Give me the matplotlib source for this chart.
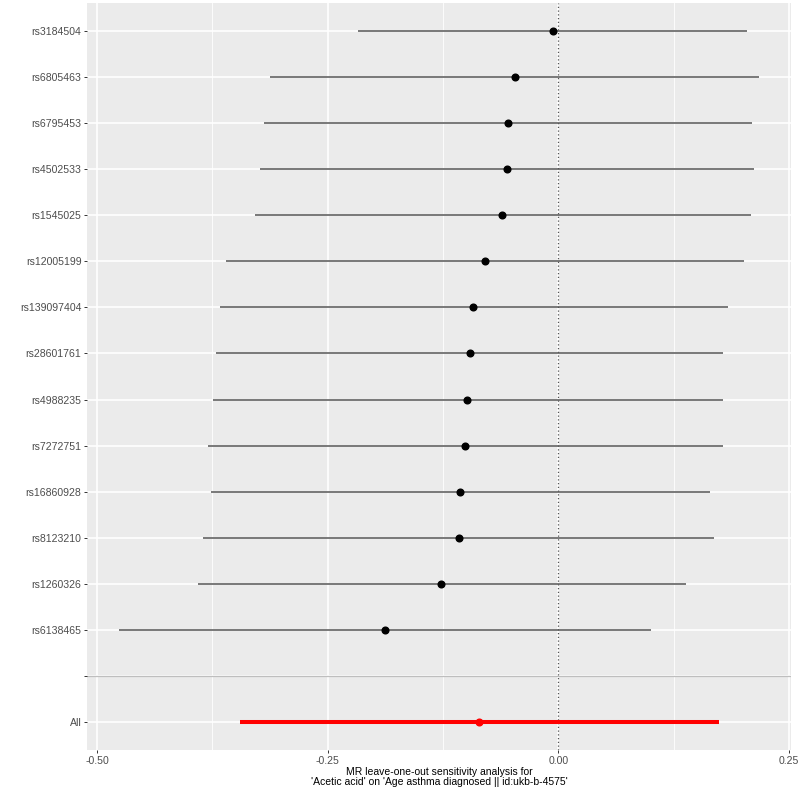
import matplotlib
matplotlib.use("Agg")
import matplotlib.pyplot as plt
import numpy as np

plt.rcParams['font.family'] = ['Liberation Sans', 'DejaVu Sans']

# leave-one-out estimates, listed top to bottom
snps = ["rs3184504", "rs6805463", "rs6795453", "rs4502533", "rs1545025",
        "rs12005199", "rs139097404", "rs28601761", "rs4988235", "rs7272751",
        "rs16860928", "rs8123210", "rs1260326", "rs6138465"]
b = [-0.006, -0.047, -0.055, -0.056, -0.061, -0.079, -0.092, -0.096,
     -0.099, -0.101, -0.107, -0.108, -0.127, -0.188]
lo = [-0.217, -0.312, -0.319, -0.323, -0.329, -0.360, -0.367, -0.371,
      -0.374, -0.380, -0.376, -0.385, -0.391, -0.476]
hi = [0.205, 0.218, 0.210, 0.212, 0.209, 0.201, 0.184, 0.179,
      0.178, 0.179, 0.164, 0.169, 0.138, 0.101]

all_b, all_lo, all_hi = -0.086, -0.345, 0.174

x_ticks = [-0.50, -0.25, 0.00, 0.25]
x_tick_labels = ["-0.50", "-0.25", "0.00", "0.25"]

fig = plt.figure(figsize=(8.09, 7.92), dpi=100)
ax = fig.add_axes([87 / 809, 1 - 750 / 792, (791 - 87) / 809, (750 - 3) / 792])
ax.set_facecolor('#EBEBEB')
for s in ax.spines.values():
    s.set_visible(False)

# levels: All=1, blank=2, SNPs 3..16 (bottom to top)
n = len(snps)
ypos = np.arange(n + 2, 2, -1)  # top row gets highest y

ax.set_xlim(-0.5108, 0.2522)
ax.set_ylim(0.4, n + 2.6)

# grid
for xm in [-0.375, -0.125, 0.125]:
    ax.axvline(xm, color='white', lw=0.6, zorder=0)
for xv in x_ticks:
    ax.axvline(xv, color='white', lw=1.2, zorder=0)
for yv in list(ypos) + [2, 1]:
    ax.axhline(yv, color='white', lw=1.2, zorder=0)

ax.axhline(2, color='#BEBEBE', lw=0.9, zorder=1)
ax.axvline(0, color='#555555', lw=0.9, linestyle=(0, (1, 2)), zorder=2)

ax.hlines(ypos, lo, hi, color='#555555', lw=1.1, zorder=3)
ax.plot(b, ypos, 'o', color='black', ms=4.8, zorder=4)

ax.hlines(1, all_lo, all_hi, color='#FF0000', lw=2.9, zorder=3)
ax.plot([all_b], [1], 'o', color='#FF0000', ms=4.8, zorder=4)

ax.set_yticks(list(ypos) + [2, 1])
ax.set_yticklabels(snps + ["", "All"])
ax.set_xticks(x_ticks)
ax.set_xticklabels(x_tick_labels)
ax.tick_params(axis='both', colors='#333333', labelcolor='#4D4D4D',
               labelsize=7.6, length=2.5, width=0.7, pad=1.5)

ax.set_xlabel("MR leave-one-out sensitivity analysis for\n"
              "'Acetic acid' on 'Age asthma diagnosed || id:ukb-b-4575'",
              fontsize=7.5, color='black', labelpad=1, linespacing=1.0)

fig.savefig("out.png", dpi=100, facecolor='white')
